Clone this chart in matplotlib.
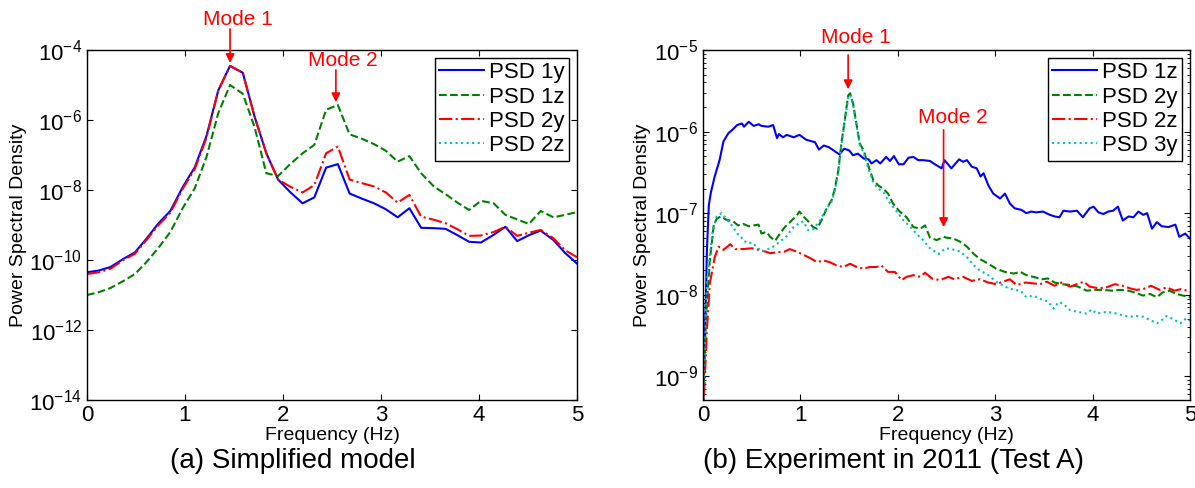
import numpy as np
import matplotlib
matplotlib.use("Agg")
import matplotlib.pyplot as plt
from matplotlib.ticker import LogLocator, FixedLocator, NullLocator, LogFormatterSciNotation

plt.rcParams['font.family'] = ['Liberation Sans', 'DejaVu Sans']
plt.rcParams['mathtext.fontset'] = 'custom'
plt.rcParams['mathtext.rm'] = 'Liberation Sans'

# ---- (a) simplified model: log10 of PSD on a uniform frequency grid ----
f_model = [0.00, 0.12, 0.24, 0.37, 0.49, 0.61, 0.73, 0.85, 0.98, 1.10, 1.22, 1.34, 1.46, 1.59,
           1.71, 1.83, 1.95, 2.07, 2.20, 2.32, 2.44, 2.56, 2.68, 2.80, 2.93, 3.05, 3.17, 3.29,
           3.41, 3.54, 3.66, 3.78, 3.90, 4.02, 4.15, 4.27, 4.39, 4.51, 4.63, 4.76, 4.88, 5.00]
psd_1y = [-10.35, -10.30, -10.20, -9.97, -9.78, -9.38, -8.95, -8.60, -7.90, -7.35, -6.45, -5.15,
          -4.45, -4.65, -5.90, -6.95, -7.70, -8.05, -8.38, -8.21, -7.36, -7.26, -8.10, -8.24,
          -8.38, -8.55, -8.78, -8.52, -9.08, -9.09, -9.11, -9.29, -9.48, -9.50, -9.28, -9.05,
          -9.46, -9.29, -9.16, -9.43, -9.80, -10.10]
psd_1z = [-11.00, -10.92, -10.80, -10.60, -10.40, -10.05, -9.65, -9.20, -8.50, -7.95, -7.05, -5.80,
          -5.00, -5.25, -6.20, -7.52, -7.60, -7.27, -6.95, -6.71, -5.71, -5.57, -6.41, -6.53,
          -6.69, -6.88, -7.19, -7.03, -7.52, -7.90, -8.12, -8.36, -8.57, -8.31, -8.38, -8.71,
          -8.84, -8.97, -8.60, -8.78, -8.71, -8.63]
psd_2y = [-10.40, -10.35, -10.25, -10.00, -9.82, -9.42, -9.00, -8.65, -7.95, -7.40, -6.50, -5.15,
          -4.46, -4.65, -5.90, -6.95, -7.70, -7.90, -8.07, -7.86, -6.95, -6.76, -7.70, -7.80,
          -7.90, -8.07, -8.36, -8.14, -8.76, -8.85, -8.95, -9.12, -9.31, -9.30, -9.20, -9.05,
          -9.31, -9.22, -9.14, -9.38, -9.72, -9.92]

# ---- (b) experiment 2011, test A: (frequency, log10 PSD) ----
exp_1z = [(0.00, -9.40), (0.03, -8.00), (0.04, -7.45), (0.06, -6.90), (0.08, -6.75), (0.12, -6.55),
          (0.17, -6.35), (0.21, -6.12), (0.26, -6.02), (0.30, -5.98), (0.35, -5.92), (0.40, -5.90),
          (0.42, -5.94), (0.47, -5.88), (0.52, -5.93), (0.57, -5.91), (0.60, -5.93), (0.67, -5.94),
          (0.72, -5.92), (0.76, -6.08), (0.78, -6.03), (0.82, -6.07), (0.86, -6.04), (0.93, -6.07),
          (0.99, -6.04), (1.06, -6.10), (1.15, -6.13), (1.19, -6.22), (1.24, -6.17), (1.29, -6.19),
          (1.34, -6.23), (1.40, -6.28), (1.45, -6.21), (1.50, -6.23), (1.54, -6.29), (1.59, -6.27),
          (1.65, -6.33), (1.70, -6.34), (1.73, -6.39), (1.78, -6.35), (1.82, -6.39), (1.88, -6.31),
          (1.92, -6.36), (1.96, -6.30), (2.01, -6.40), (2.06, -6.40), (2.11, -6.32), (2.16, -6.31),
          (2.21, -6.35), (2.26, -6.35), (2.33, -6.36), (2.38, -6.40), (2.45, -6.45), (2.48, -6.35),
          (2.55, -6.45), (2.63, -6.34), (2.67, -6.37), (2.71, -6.35), (2.76, -6.43), (2.81, -6.45),
          (2.85, -6.55), (2.88, -6.51), (2.93, -6.66), (2.98, -6.76), (3.05, -6.82), (3.10, -6.76),
          (3.15, -6.88), (3.20, -6.94), (3.27, -6.96), (3.32, -7.00), (3.37, -6.98), (3.42, -6.99),
          (3.49, -6.98), (3.56, -7.02), (3.61, -7.04), (3.66, -7.05), (3.70, -6.97), (3.77, -6.98),
          (3.84, -6.97), (3.90, -7.05), (3.97, -6.94), (4.01, -6.92), (4.06, -6.99), (4.11, -7.01),
          (4.16, -6.98), (4.21, -6.97), (4.26, -6.92), (4.31, -7.09), (4.37, -7.04), (4.42, -7.05),
          (4.47, -6.98), (4.52, -7.02), (4.56, -7.00), (4.61, -7.19), (4.66, -7.11), (4.71, -7.16),
          (4.78, -7.17), (4.85, -7.14), (4.89, -7.29), (4.95, -7.25), (5.00, -7.31)]
exp_2y = [(0.00, -9.40), (0.03, -8.30), (0.07, -7.58), (0.11, -7.15), (0.14, -7.07), (0.18, -7.04),
          (0.24, -7.08), (0.31, -7.10), (0.36, -7.15), (0.41, -7.13), (0.47, -7.16), (0.52, -7.15),
          (0.57, -7.14), (0.60, -7.25), (0.65, -7.23), (0.69, -7.29), (0.74, -7.34), (0.79, -7.25),
          (0.84, -7.17), (0.91, -7.09), (0.96, -7.03), (0.99, -6.98), (1.03, -7.04), (1.08, -7.10),
          (1.13, -7.17), (1.17, -7.19), (1.22, -7.08), (1.27, -6.94), (1.32, -6.84), (1.35, -6.72),
          (1.39, -6.47), (1.42, -6.15), (1.46, -5.82), (1.49, -5.56), (1.51, -5.53), (1.54, -5.65),
          (1.58, -5.94), (1.61, -6.15), (1.65, -6.23), (1.70, -6.43), (1.75, -6.60), (1.80, -6.66),
          (1.85, -6.70), (1.90, -6.76), (1.95, -6.88), (2.02, -6.98), (2.09, -7.05), (2.16, -7.17),
          (2.23, -7.19), (2.28, -7.15), (2.33, -7.30), (2.40, -7.33), (2.47, -7.29), (2.50, -7.30),
          (2.57, -7.31), (2.64, -7.35), (2.71, -7.41), (2.78, -7.50), (2.84, -7.56), (2.93, -7.62),
          (3.01, -7.68), (3.10, -7.72), (3.19, -7.74), (3.26, -7.72), (3.32, -7.76), (3.39, -7.78),
          (3.48, -7.81), (3.54, -7.80), (3.61, -7.85), (3.68, -7.87), (3.77, -7.88), (3.85, -7.90),
          (3.94, -7.95), (4.02, -7.94), (4.11, -7.94), (4.20, -7.95), (4.28, -7.94), (4.37, -7.95),
          (4.45, -7.98), (4.52, -8.01), (4.59, -7.99), (4.66, -8.03), (4.72, -7.97), (4.79, -7.95),
          (4.86, -7.99), (4.93, -8.01), (5.00, -8.03)]
exp_2z = [(0.00, -9.50), (0.01, -9.26), (0.04, -8.43), (0.07, -7.86), (0.12, -7.54), (0.16, -7.41),
          (0.21, -7.45), (0.28, -7.38), (0.33, -7.44), (0.41, -7.44), (0.50, -7.43), (0.57, -7.45),
          (0.64, -7.47), (0.69, -7.49), (0.76, -7.48), (0.84, -7.47), (0.89, -7.44), (0.96, -7.47),
          (1.03, -7.51), (1.10, -7.55), (1.17, -7.60), (1.24, -7.58), (1.30, -7.60), (1.37, -7.64),
          (1.44, -7.66), (1.51, -7.62), (1.58, -7.66), (1.65, -7.68), (1.71, -7.66), (1.78, -7.66),
          (1.83, -7.64), (1.90, -7.72), (1.97, -7.72), (2.04, -7.82), (2.09, -7.78), (2.16, -7.76),
          (2.23, -7.78), (2.28, -7.73), (2.35, -7.80), (2.43, -7.82), (2.52, -7.78), (2.58, -7.81),
          (2.67, -7.78), (2.76, -7.83), (2.84, -7.81), (2.93, -7.85), (3.01, -7.87), (3.08, -7.84),
          (3.15, -7.81), (3.22, -7.88), (3.31, -7.85), (3.39, -7.86), (3.46, -7.87), (3.53, -7.84),
          (3.61, -7.89), (3.68, -7.85), (3.77, -7.90), (3.84, -7.87), (3.91, -7.84), (3.97, -7.90),
          (4.06, -7.92), (4.14, -7.91), (4.23, -7.87), (4.31, -7.89), (4.38, -7.92), (4.45, -7.94),
          (4.52, -7.93), (4.60, -7.89), (4.69, -7.94), (4.76, -7.91), (4.84, -7.95), (4.91, -7.93),
          (5.00, -7.96)]
exp_3y = [(0.00, -9.35), (0.04, -7.83), (0.10, -7.21), (0.14, -7.04), (0.19, -7.00), (0.24, -7.07),
          (0.31, -7.17), (0.35, -7.25), (0.38, -7.27), (0.41, -7.33), (0.46, -7.37), (0.50, -7.36),
          (0.55, -7.41), (0.60, -7.47), (0.65, -7.45), (0.72, -7.41), (0.79, -7.35), (0.86, -7.28),
          (0.93, -7.17), (0.99, -7.12), (1.03, -7.10), (1.08, -7.21), (1.13, -7.20), (1.20, -7.09),
          (1.27, -6.94), (1.32, -6.86), (1.35, -6.74), (1.39, -6.49), (1.42, -6.17), (1.46, -5.84),
          (1.49, -5.58), (1.51, -5.55), (1.54, -5.67), (1.58, -5.96), (1.61, -6.17), (1.65, -6.26),
          (1.70, -6.46), (1.75, -6.63), (1.80, -6.70), (1.85, -6.74), (1.92, -6.88), (1.99, -6.98),
          (2.06, -7.09), (2.13, -7.17), (2.19, -7.25), (2.26, -7.33), (2.33, -7.43), (2.42, -7.50),
          (2.49, -7.43), (2.55, -7.44), (2.64, -7.47), (2.71, -7.54), (2.78, -7.64), (2.84, -7.70),
          (2.93, -7.76), (3.01, -7.84), (3.10, -7.90), (3.19, -7.94), (3.26, -7.95), (3.32, -8.03),
          (3.39, -8.01), (3.48, -8.06), (3.54, -8.08), (3.60, -8.17), (3.65, -8.09), (3.70, -8.11),
          (3.77, -8.19), (3.85, -8.21), (3.94, -8.23), (3.99, -8.18), (4.04, -8.23), (4.14, -8.21),
          (4.21, -8.22), (4.30, -8.25), (4.38, -8.27), (4.45, -8.26), (4.52, -8.27), (4.59, -8.31),
          (4.66, -8.35), (4.71, -8.31), (4.76, -8.26), (4.83, -8.30), (4.90, -8.35), (4.96, -8.29),
          (5.00, -8.32)]

# mode markers: (label, text x, text log10 y, arrow x, arrow start log10, arrow tip log10)
modes_a = [('Mode 1', 1.54, -3.14, 1.46, -3.40, -4.37),
           ('Mode 2', 2.61, -4.31, 2.54, -4.57, -5.49)]
modes_b = [('Mode 1', 1.57, -4.85, 1.49, -5.06, -5.48),
           ('Mode 2', 2.56, -5.83, 2.47, -5.98, -7.17)]

BLUE = (0, 0, 1)
GREEN = (0, 0.5, 0)
RED = (1, 0, 0)
CYAN = (0, 0.75, 0.75)
LW = 1.5


def style_axes(ax):
    ax.set_xlim(0, 5)
    ax.set_xticks([0, 1, 2, 3, 4, 5])
    ax.tick_params(which='both', direction='in', top=True, right=True, labelsize=16)
    ax.tick_params(which='major', length=4)
    ax.tick_params(which='minor', length=2.5)
    for s in ax.spines.values():
        s.set_linewidth(1.0)
    ax.set_xlabel('Frequency (Hz)', fontsize=14, labelpad=1)
    ax.set_ylabel('Power Spectral Density', fontsize=14, labelpad=2)


def legend(ax, handles):
    lg = ax.legend(handles=handles, loc='upper right', fontsize=16, fancybox=False,
                   edgecolor='black', framealpha=1, handlelength=2.0, labelspacing=0.15,
                   borderaxespad=0.35, handletextpad=0.25, borderpad=0.2)
    lg.get_frame().set_linewidth(1.0)


def mark_modes(ax, modes):
    for lab, tx, ty, ax_x, y0, y1 in modes:
        ax.text(tx, 10 ** ty, lab, color='red', fontsize=15, ha='center', va='center',
                clip_on=False)
        ax.annotate('', xy=(ax_x, 10 ** y1), xytext=(ax_x, 10 ** y0), annotation_clip=False,
                    arrowprops=dict(arrowstyle='-|>', color='red', lw=1.2, shrinkA=0,
                                    shrinkB=0, mutation_scale=13))


fig = plt.figure(figsize=(11.95, 4.88), dpi=100)

# ---- left panel ----
ax1 = fig.add_axes([0.0728, 0.1803, 0.41, 0.7172])
f = np.array(f_model)
h1, = ax1.plot(f, 10.0 ** np.array(psd_1y), '-', color=BLUE, lw=LW, label='PSD 1y')
h2, = ax1.plot(f, 10.0 ** np.array(psd_1z), '--', color=GREEN, lw=LW, label='PSD 1z')
h3, = ax1.plot(f, 10.0 ** np.array(psd_2y), '-.', color=RED, lw=LW, label='PSD 2y')
h4, = ax1.plot([], [], ':', color=CYAN, lw=LW, label='PSD 2z')
ax1.set_yscale('log')
ax1.set_ylim(1e-14, 1e-4)
ax1.yaxis.set_major_locator(FixedLocator([1e-14, 1e-12, 1e-10, 1e-8, 1e-6, 1e-4]))
ax1.yaxis.set_major_formatter(LogFormatterSciNotation())
ax1.yaxis.set_minor_locator(NullLocator())
style_axes(ax1)
legend(ax1, [h1, h2, h3, h4])
mark_modes(ax1, modes_a)

# ---- right panel ----
ax2 = fig.add_axes([0.5883, 0.1803, 0.4075, 0.7172])
series = [(exp_1z, '-', BLUE, 'PSD 1z'), (exp_2y, '--', GREEN, 'PSD 2y'),
          (exp_2z, '-.', RED, 'PSD 2z'), (exp_3y, ':', CYAN, 'PSD 3y')]
hs = []
for data, ls, col, lab in series:
    arr = np.array(data)
    h, = ax2.plot(arr[:, 0], 10.0 ** arr[:, 1], ls, color=col, lw=LW, label=lab)
    hs.append(h)
ax2.set_yscale('log')
ax2.set_ylim(10 ** -9.29, 1e-5)
ax2.yaxis.set_major_locator(LogLocator(base=10))
ax2.yaxis.set_minor_locator(LogLocator(base=10, subs=np.arange(2, 10)))
ax2.yaxis.set_major_formatter(LogFormatterSciNotation())
style_axes(ax2)
legend(ax2, hs)
mark_modes(ax2, modes_b)

fig.text(0.245, 0.055, '(a) Simplified model', fontsize=20, ha='center', va='center')
fig.text(0.748, 0.055, '(b) Experiment in 2011 (Test A)', fontsize=20, ha='center', va='center')

fig.savefig('out.png', dpi=100)
